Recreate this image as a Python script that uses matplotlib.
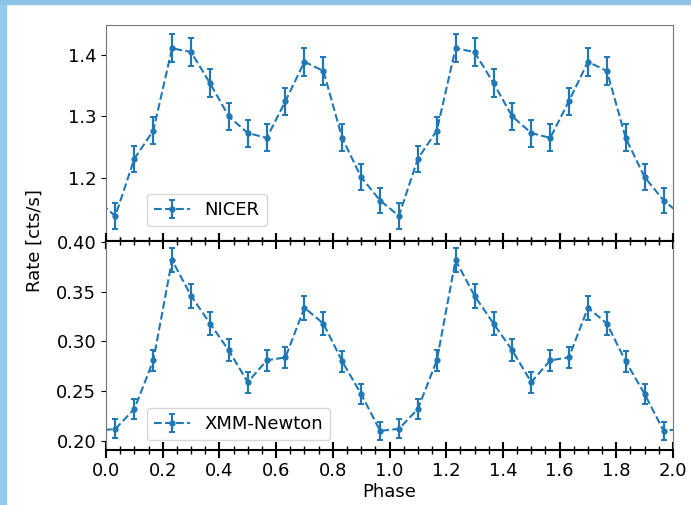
import numpy as np
import matplotlib
matplotlib.use("Agg")
import matplotlib.pyplot as plt
from matplotlib.patches import Rectangle
from matplotlib.ticker import MultipleLocator

# ---- data (one pulse cycle, 15 phase bins) ----
phase = [0.033, 0.100, 0.167, 0.233, 0.300, 0.367, 0.433, 0.500,
         0.567, 0.633, 0.700, 0.767, 0.833, 0.900, 0.967]
nicer_rate = [1.138, 1.231, 1.277, 1.411, 1.405, 1.354, 1.300, 1.273,
              1.265, 1.325, 1.389, 1.374, 1.265, 1.201, 1.163]
nicer_err = [0.021, 0.021, 0.022, 0.023, 0.023, 0.023, 0.022, 0.022,
             0.022, 0.022, 0.023, 0.023, 0.022, 0.021, 0.021]
xmm_rate = [0.212, 0.232, 0.281, 0.382, 0.346, 0.318, 0.291, 0.259,
            0.281, 0.284, 0.334, 0.318, 0.280, 0.247, 0.210]
xmm_err = [0.0095, 0.0099, 0.0109, 0.0122, 0.0120, 0.0117, 0.0110, 0.0106,
           0.0109, 0.0109, 0.0119, 0.0116, 0.0109, 0.0102, 0.0092]
cycles = [-1, 0, 1, 2]   # profile repeated, shown over phase 0-2

x_all = np.concatenate([np.array(phase) + c for c in cycles])
nicer_all = np.tile(nicer_rate, len(cycles))
nicer_err_all = np.tile(nicer_err, len(cycles))
xmm_all = np.tile(xmm_rate, len(cycles))
xmm_err_all = np.tile(xmm_err, len(cycles))

FS = 13
plt.rcParams['font.family'] = ['DejaVu Sans']
plt.rcParams['font.size'] = FS

W, H = 691, 505
fig = plt.figure(figsize=(W / 100, H / 100), dpi=100)

L, R, T, M, B = 106, 673, 25, 241, 450
ax1 = fig.add_axes([L / W, 1 - M / H, (R - L) / W, (M - T) / H])
ax2 = fig.add_axes([L / W, 1 - B / H, (R - L) / W, (B - M) / H])

color = '#1f77b4'
kw = dict(fmt='o--', color=color, ms=3.5, lw=1.5, elinewidth=1.6, capsize=2.2, capthick=1.4)
ax1.errorbar(x_all, nicer_all, yerr=nicer_err_all, label='NICER', **kw)
ax2.errorbar(x_all, xmm_all, yerr=xmm_err_all, label='XMM-Newton', **kw)

ax1.set_xlim(0, 2)
ax2.set_xlim(0, 2)
ax1.set_ylim(1.097, 1.449)
ax2.set_ylim(0.1907, 0.4012)
ax1.set_yticks([1.2, 1.3, 1.4])
ax2.set_yticks([0.20, 0.25, 0.30, 0.35, 0.40])
ax2.set_yticklabels(['0.20', '0.25', '0.30', '0.35', '0.40'])

for ax in (ax1, ax2):
    ax.xaxis.set_major_locator(MultipleLocator(0.2))
    ax.xaxis.set_minor_locator(MultipleLocator(0.05))
    ax.tick_params(axis='x', which='major', direction='inout', length=11, width=1.5)
    ax.tick_params(axis='x', which='minor', direction='inout', length=6, width=1.0)
    ax.tick_params(axis='y', labelsize=FS)
    for s in ('left', 'right', 'top'):
        ax.spines[s].set_color('0.45')
ax1.tick_params(axis='x', which='both', bottom=True, top=False, labelbottom=False)
ax2.tick_params(axis='x', which='both', bottom=True, top=True, labeltop=False, labelsize=FS)
ax1.spines['bottom'].set_linewidth(1.5)
ax2.spines['bottom'].set_linewidth(1.5)
ax2.spines['top'].set_linewidth(1.5)
ax2.spines['top'].set_color('black')
ax2.set_xticklabels([f'{v:.1f}' for v in ax2.get_xticks()])
ax2.set_xlim(0, 2)

ax2.set_xlabel('Phase', fontsize=FS, labelpad=2)
fig.text(35 / W, 1 - M / H, 'Rate [cts/s]', rotation=90, ha='center', va='center', fontsize=FS)

ax1.legend(loc='lower left', bbox_to_anchor=(0.072, 0.068), borderaxespad=0, fontsize=FS)
ax2.legend(loc='lower left', bbox_to_anchor=(0.072, 0.046), borderaxespad=0, fontsize=FS)

# screenshot border strips
fig.patches.append(Rectangle((0, 0), 6 / W, 1, transform=fig.transFigure,
                             color='#93c9ea', zorder=-1))
fig.patches.append(Rectangle((0, 1 - 4 / H), 1, 4 / H, transform=fig.transFigure,
                             color='#8cc4e8', zorder=-1))

fig.savefig('out.png', dpi=100)
